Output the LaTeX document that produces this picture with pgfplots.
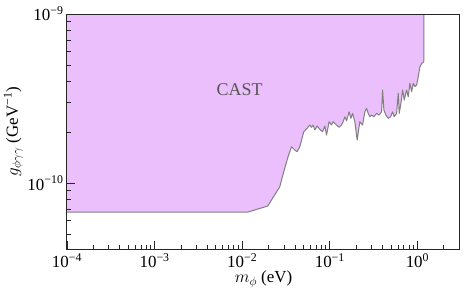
\documentclass[border=0pt]{standalone}
\usepackage{fontspec}
\setmainfont{Liberation Serif}
\usepackage{pgfplots}
\pgfplotsset{compat=1.18}
\definecolor{castfill}{HTML}{EBBFFB}
\definecolor{castline}{HTML}{808080}
\definecolor{casttext}{HTML}{555555}
\begin{document}
\begin{tikzpicture}
\useasboundingbox (-67bp,-41bp) rectangle (396bp,249bp);
\begin{axis}[
  scale only axis,
  width=393bp, height=235bp,
  xmode=log, ymode=log,
  xmin=1e-4, xmax=3.06,
  ymin=4.07e-11, ymax=1e-9,
  axis on top,
  axis line style={line width=1bp, black!85},
  tick style={line width=0.8bp, black!85},
  tick align=inside,
  xtick pos=bottom, ytick pos=left,
  major tick length=8bp, minor tick length=4.5bp,
  font=\fontsize{17}{20}\selectfont,
  xtick={1e-4,1e-3,1e-2,1e-1,1},
  xticklabels={10\textsuperscript{−4},10\textsuperscript{−3},10\textsuperscript{−2},10\textsuperscript{−1},10\textsuperscript{0}},
  minor xtick={2e-4,3e-4,4e-4,5e-4,6e-4,7e-4,8e-4,9e-4,2e-3,3e-3,4e-3,5e-3,6e-3,7e-3,8e-3,9e-3,2e-2,3e-2,4e-2,5e-2,6e-2,7e-2,8e-2,9e-2,0.2,0.3,0.4,0.5,0.6,0.7,0.8,0.9,2,3},
  ytick={1e-10,1e-9},
  yticklabels={10\textsuperscript{−10},10\textsuperscript{−9}},
  minor ytick={5e-11,6e-11,7e-11,8e-11,9e-11,2e-10,3e-10,4e-10,5e-10,6e-10,7e-10,8e-10,9e-10},
  xticklabel style={yshift=-1bp},
  yticklabel style={xshift=0bp},
  xlabel={$m_{\phi}$ (eV)},
  ylabel={$g_{\phi\gamma\gamma}$ (GeV\textsuperscript{−1})},
  xlabel style={yshift=4bp},
  ylabel style={yshift=-2bp},
]
\addplot[fill=castfill, draw=none] coordinates {
(1e-4,6.73e-11) (0.01156,6.73e-11) (0.01954,7.31e-11) (0.02683,9.51e-11)
(0.02979,1.166e-10) (0.03337,1.431e-10) (0.0365,1.64e-10) (0.03981,1.568e-10)
(0.04229,1.532e-10) (0.04542,1.64e-10) (0.05044,2.012e-10) (0.05502,2.108e-10)
(0.05907,2.204e-10) (0.06178,2.137e-10) (0.06443,2.204e-10) (0.06739,2.06e-10)
(0.07159,2.175e-10) (0.07686,2.08e-10) (0.08252,2.012e-10) (0.08767,2.175e-10)
(0.0917,1.923e-10) (0.09817,2.306e-10) (0.1046,2.204e-10) (0.1091,2.306e-10)
(0.1193,2.204e-10) (0.1277,2.137e-10) (0.136,2.204e-10) (0.1419,2.306e-10)
(0.1484,2.467e-10) (0.1552,2.337e-10) (0.1662,2.641e-10) (0.1738,2.414e-10)
(0.1817,2.584e-10) (0.1931,2.306e-10) (0.2051,1.796e-10) (0.2145,2.108e-10)
(0.2202,2.306e-10) (0.2364,2.204e-10) (0.2512,2.641e-10) (0.2627,2.767e-10)
(0.274,2.584e-10) (0.2865,2.467e-10) (0.2996,2.525e-10) (0.3184,2.467e-10)
(0.3418,2.584e-10) (0.3661,2.525e-10) (0.3899,2.641e-10) (0.4002,3.55e-10)
(0.4141,2.704e-10) (0.4365,2.525e-10) (0.4637,2.414e-10) (0.494,2.467e-10)
(0.5206,2.641e-10) (0.543,2.467e-10) (0.5783,2.584e-10) (0.6034,3.394e-10)
(0.6194,2.584e-10) (0.6477,2.961e-10) (0.6773,3.55e-10) (0.7066,3.098e-10)
(0.7526,3.55e-10) (0.7852,3.241e-10) (0.8208,3.89e-10) (0.8585,3.468e-10)
(0.8953,3.89e-10) (0.9363,3.714e-10) (0.9793,3.801e-10) (1.021,4.254e-10)
(1.068,4.875e-10) (1.117,5.106e-10) (1.165,5.18e-10) (1.187,5.3e-10)
(1.187,1e-9) (1e-4,1e-9)
} -- cycle;
\addplot[castline, line width=1bp, line join=round] coordinates {
(1e-4,6.73e-11) (0.01156,6.73e-11) (0.01954,7.31e-11) (0.02683,9.51e-11)
(0.02979,1.166e-10) (0.03337,1.431e-10) (0.0365,1.64e-10) (0.03981,1.568e-10)
(0.04229,1.532e-10) (0.04542,1.64e-10) (0.05044,2.012e-10) (0.05502,2.108e-10)
(0.05907,2.204e-10) (0.06178,2.137e-10) (0.06443,2.204e-10) (0.06739,2.06e-10)
(0.07159,2.175e-10) (0.07686,2.08e-10) (0.08252,2.012e-10) (0.08767,2.175e-10)
(0.0917,1.923e-10) (0.09817,2.306e-10) (0.1046,2.204e-10) (0.1091,2.306e-10)
(0.1193,2.204e-10) (0.1277,2.137e-10) (0.136,2.204e-10) (0.1419,2.306e-10)
(0.1484,2.467e-10) (0.1552,2.337e-10) (0.1662,2.641e-10) (0.1738,2.414e-10)
(0.1817,2.584e-10) (0.1931,2.306e-10) (0.2051,1.796e-10) (0.2145,2.108e-10)
(0.2202,2.306e-10) (0.2364,2.204e-10) (0.2512,2.641e-10) (0.2627,2.767e-10)
(0.274,2.584e-10) (0.2865,2.467e-10) (0.2996,2.525e-10) (0.3184,2.467e-10)
(0.3418,2.584e-10) (0.3661,2.525e-10) (0.3899,2.641e-10) (0.4002,3.55e-10)
(0.4141,2.704e-10) (0.4365,2.525e-10) (0.4637,2.414e-10) (0.494,2.467e-10)
(0.5206,2.641e-10) (0.543,2.467e-10) (0.5783,2.584e-10) (0.6034,3.394e-10)
(0.6194,2.584e-10) (0.6477,2.961e-10) (0.6773,3.55e-10) (0.7066,3.098e-10)
(0.7526,3.55e-10) (0.7852,3.241e-10) (0.8208,3.89e-10) (0.8585,3.468e-10)
(0.8953,3.89e-10) (0.9363,3.714e-10) (0.9793,3.801e-10) (1.021,4.254e-10)
(1.068,4.875e-10) (1.117,5.106e-10) (1.165,5.18e-10) (1.187,5.3e-10)
(1.187,1e-9)
};
\node[text=casttext, font=\fontsize{18}{20}\selectfont] at (axis cs:0.00935,3.55e-10) {CAST};
\end{axis}
\end{tikzpicture}
\end{document}
